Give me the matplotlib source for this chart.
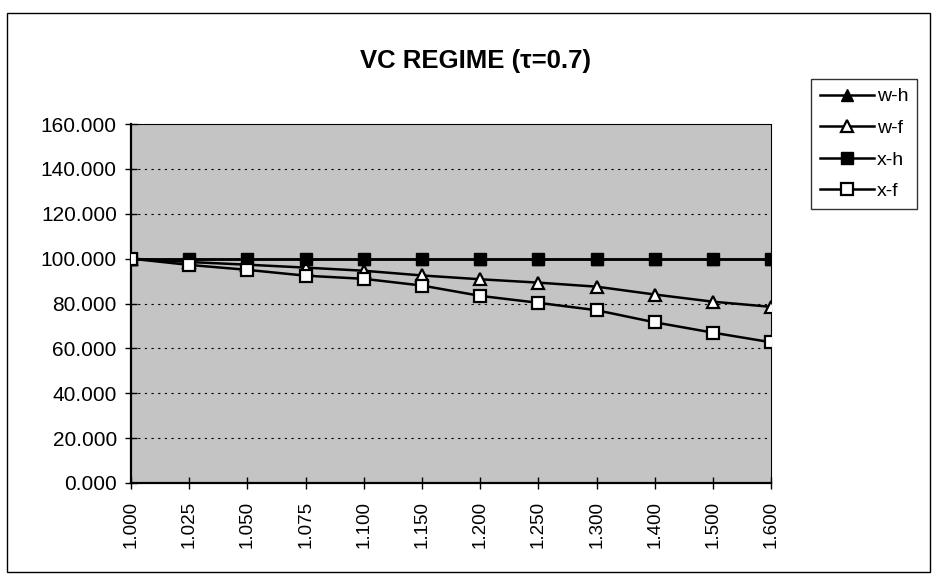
import matplotlib
matplotlib.use("Agg")
import matplotlib.pyplot as plt

# categories along x (Excel style, evenly spaced)
x_labels = ["1.000", "1.025", "1.050", "1.075", "1.100", "1.150",
            "1.200", "1.250", "1.300", "1.400", "1.500", "1.600"]

w_h = [100.0, 100.0, 100.0, 100.0, 100.0, 100.0, 100.0, 100.0, 100.0, 100.0, 100.0, 100.0]
w_f = [100.0, 98.5, 97.3, 96.0, 94.6, 92.5, 90.8, 89.3, 87.5, 84.0, 80.8, 78.5]
x_h = [100.0, 100.0, 100.0, 100.0, 100.0, 100.0, 100.0, 100.0, 100.0, 100.0, 100.0, 100.0]
x_f = [100.0, 97.2, 95.0, 92.4, 91.0, 88.0, 83.4, 80.3, 77.0, 71.6, 67.0, 62.7]

y_ticks = [0, 20, 40, 60, 80, 100, 120, 140, 160]

plt.rcParams['font.family'] = ['Liberation Sans', 'DejaVu Sans']

fig = plt.figure(figsize=(9.36, 5.77), dpi=100, facecolor="white")
ax = fig.add_axes([0.140, 0.163, 0.684, 0.622])
ax.set_facecolor("#c4c4c4")

pos = list(range(len(x_labels)))
lw, ms = 1.8, 8.5
ax.plot(pos, w_h, color="black", lw=lw, marker="^", ms=ms, mfc="black", mec="black", label="w-h", zorder=3)
ax.plot(pos, w_f, color="black", lw=lw, marker="^", ms=ms, mfc="white", mec="black", mew=1.6, label="w-f", zorder=3)
ax.plot(pos, x_h, color="black", lw=lw, marker="s", ms=ms, mfc="black", mec="black", label="x-h", zorder=4)
ax.plot(pos, x_f, color="black", lw=lw, marker="s", ms=ms, mfc="white", mec="black", mew=1.6, label="x-f", zorder=5)

ax.set_xlim(0, len(x_labels) - 1)
ax.set_ylim(0, 160)
ax.set_xticks(pos)
ax.set_xticklabels(x_labels, rotation=90, fontsize=13.5)
ax.set_yticks(y_ticks)
ax.set_yticklabels([f"{v:.3f}" for v in y_ticks], fontsize=15)
ax.tick_params(axis="both", direction="inout", length=8.5, width=1)
ax.tick_params(axis="x", pad=9)
ax.tick_params(axis="y", pad=6)

# dashed horizontal grid
for v in y_ticks[1:-1]:
    ax.axhline(v, color="black", lw=0.8, ls=(0, (2, 4)), zorder=1)

for s in ["top", "right"]:
    ax.spines[s].set_linewidth(0.8)
    ax.spines[s].set_linestyle((0, (1, 1)))
for s in ["left", "bottom"]:
    ax.spines[s].set_linewidth(1.6)

fig.text(0.508, 0.894, "VC REGIME (\u03c4=0.7)", ha="center", va="center",
         fontsize=18.5, fontweight="bold")

leg = fig.legend(loc="upper left", bbox_to_anchor=(0.8665, 0.863), fontsize=14,
                 frameon=True, fancybox=False, edgecolor="black",
                 handlelength=2.8, handletextpad=0.15, labelspacing=0.72,
                 borderpad=0.45, borderaxespad=0)
leg.get_frame().set_linewidth(1.0)

# outer chart border
fig.patches.append(plt.Rectangle((0.0075, 0.009), 0.986, 0.969, transform=fig.transFigure,
                                 fill=False, edgecolor="black", lw=1.0))

fig.savefig("out.png", dpi=100, facecolor="white")
